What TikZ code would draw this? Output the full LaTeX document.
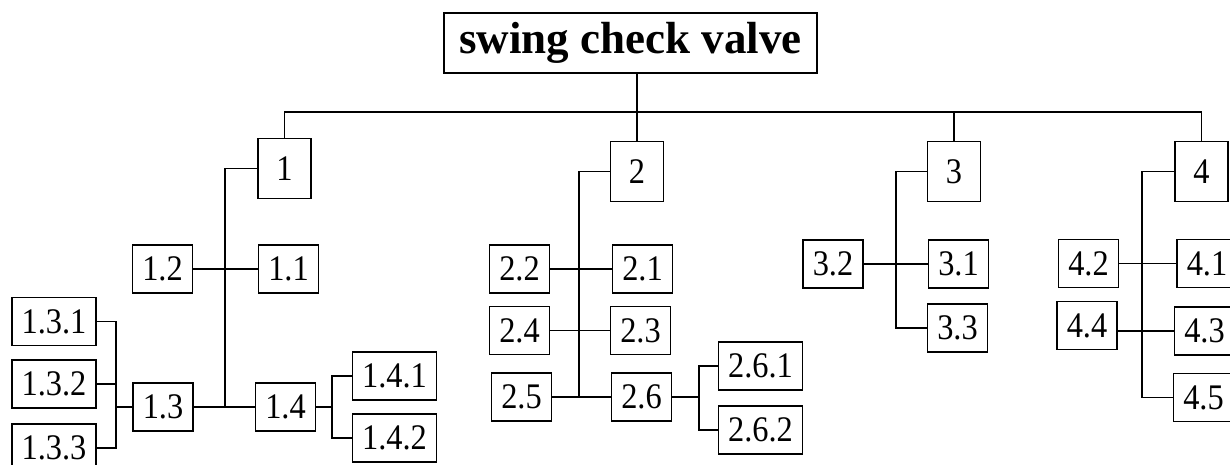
\documentclass[tikz,border=0pt]{standalone}
\usepackage{fontspec}
\newfontfamily\tnr{Liberation Serif}
\newfontfamily\tnrn[FakeStretch=0.9]{Liberation Serif}
\begin{document}
\begin{tikzpicture}[x=1pt,y=-1pt,
  every path/.style={line width=1.8pt},
  bx/.style={draw, line width=1.8pt, inner sep=0pt, font=\tnrn\fontsize{36}{36}\selectfont},
  wA/.style={minimum width=53pt, minimum height=60pt},
  wB/.style={minimum width=60pt, minimum height=48pt},
  wC/.style={minimum width=84pt, minimum height=48pt}]
\useasboundingbox (0,0) rectangle (1230,465);
% root
\node[bx, minimum width=373pt, minimum height=60pt, font=\tnr\bfseries\fontsize{45}{45}\selectfont] (root) at (630.5,43) {swing check valve};
% level 1
\node[bx,wA] (n1) at (284.5,168.5) {1};
\node[bx,wA] (n2) at (637,171.5) {2};
\node[bx,wA] (n3) at (954,171.5) {3};
\node[bx,wA] (n4) at (1201.5,171.5) {4};
% group 1
\node[bx,wB] (n11) at (288.5,269) {1.1};
\node[bx,wB] (n12) at (162.5,269) {1.2};
\node[bx,wB] (n13) at (163,407) {1.3};
\node[bx,wB] (n14) at (285.5,407) {1.4};
\node[bx,wC] (n131) at (54,321.5) {1.3.1};
\node[bx,wC] (n132) at (54,384) {1.3.2};
\node[bx,wC] (n133) at (54,448) {1.3.3};
\node[bx,wC] (n141) at (394.5,376) {1.4.1};
\node[bx,wC] (n142) at (394.5,438) {1.4.2};
% group 2
\node[bx,wB] (n21) at (642.5,269) {2.1};
\node[bx,wB] (n22) at (519.5,269) {2.2};
\node[bx,wB] (n23) at (640.5,330.5) {2.3};
\node[bx,wB] (n24) at (519.5,330.5) {2.4};
\node[bx,wB] (n25) at (521.5,397) {2.5};
\node[bx,wB] (n26) at (641.5,397) {2.6};
\node[bx,wC] (n261) at (760.5,366) {2.6.1};
\node[bx,wC] (n262) at (760.5,430) {2.6.2};
% group 3
\node[bx,wB] (n31) at (958.5,264) {3.1};
\node[bx,wB] (n32) at (833,264) {3.2};
\node[bx,wB] (n33) at (957.5,328) {3.3};
% group 4
\node[bx,wB] (n41) at (1207,263.5) {4.1};
\node[bx,wB] (n42) at (1088.5,263.5) {4.2};
\node[bx,wB] (n43) at (1204.5,331) {4.3};
\node[bx,wB] (n44) at (1087,325.5) {4.4};
\node[bx,wB] (n45) at (1203.5,397.5) {4.5};
% junctions
\coordinate (b0) at (637,112);
\coordinate (j1) at (225,407);
\coordinate (j2) at (579,397);
\coordinate (j3) at (896,328);
\coordinate (j4) at (1142,397.5);
\coordinate (k13) at (116,407);
\coordinate (k14) at (332,407);
\coordinate (k26) at (699,397);
% bus
\draw (n2.north) -- (n2.north |- root.south);
\draw (n1.north) |- (b0) -| (n4.north);
\draw (n3.north) -- (n3.north |- b0);
% group 1 links
\draw (n1.west) -| (j1);
\draw (n12.east) -- (n11.west);
\draw (n13.east) -- (n14.west);
\draw (n13.west) -- (k13);
\draw (n131.east) -| (k13) |- (n133.east);
\draw (n132.east) -- (n132.east -| k13);
\draw (n14.east) -- (k14);
\draw (n141.west) -| (k14) |- (n142.west);
% group 2 links
\draw (n2.west) -| (j2);
\draw (n22.east) -- (n21.west);
\draw (n24.east) -- (n23.west);
\draw (n25.east) -- (n26.west);
\draw (n26.east) -- (k26);
\draw (n261.west) -| (k26) |- (n262.west);
% group 3 links
\draw (n3.west) -| (j3) -- (n33.west);
\draw (n32.east) -- (n31.west);
% group 4 links
\draw (n4.west) -| (j4) -- (n45.west);
\draw (n42.east) -- (n41.west);
\draw (n43.west) -- (n43.west -| n44.east);
\end{tikzpicture}
\end{document}
